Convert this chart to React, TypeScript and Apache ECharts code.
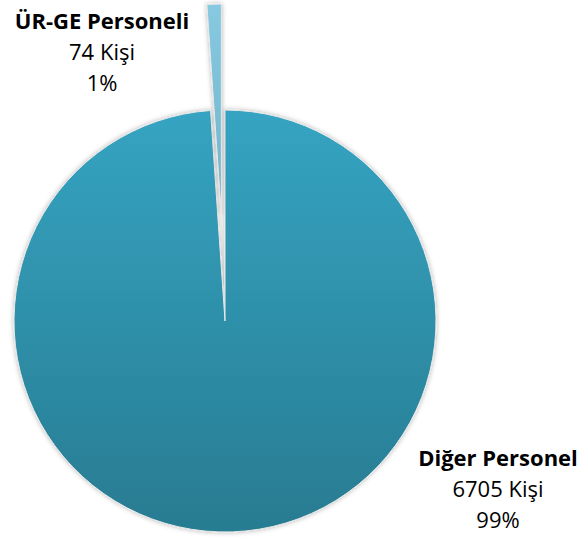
import React, { useEffect, useRef } from "react";
import * as echarts from "echarts";

const categories = ["Diğer Personel", "ÜR-GE Personeli"];
const values = [6705, 74];
const unit = "Kişi";

export default function App() {
  const ref = useRef<HTMLDivElement>(null);
  useEffect(() => {
    if (!ref.current) return;
    const chart = echarts.init(ref.current, null, { renderer: "svg" });
    const labelCenters: [number, number][] = [
      [498, 488],
      [102, 51],
    ];
    const total = values.reduce((a, b) => a + b, 0);
    const lineGap = 31;
    const font = "'Open Sans', sans-serif";
    const graphics: any[] = [];
    categories.forEach((name, i) => {
      const [cx, cy] = labelCenters[i];
      const lines = [
        { text: name, bold: true },
        { text: `${values[i]} ${unit}`, bold: false },
        { text: `${Math.round((values[i] / total) * 100)}%`, bold: false },
      ];
      lines.forEach((ln, k) => {
        graphics.push({
          type: "text",
          x: cx,
          y: cy + (k - 1) * lineGap,
          style: {
            text: ln.text,
            fontFamily: font,
            fontSize: 22,
            fontWeight: ln.bold ? "bold" : "normal",
            fill: "#000000",
            align: "center",
            verticalAlign: "middle",
          },
        });
      });
    });
    const colors = [
      new echarts.graphic.LinearGradient(0, 0, 0, 1, [
        { offset: 0, color: "#35a4c2" },
        { offset: 1, color: "#287b91" },
      ]),
      new echarts.graphic.LinearGradient(0, 0, 0, 1, [
        { offset: 0, color: "#86c9e1" },
        { offset: 1, color: "#6fb4cc" },
      ]),
    ];
    chart.setOption({
      animation: false,
      backgroundColor: "#ffffff",
      graphic: graphics,
      series: [
        {
          type: "pie",
          center: [225, 321],
          radius: [0, 211],
          startAngle: 90,
          clockwise: true,
          selectedMode: "single",
          selectedOffset: 106,
          data: categories.map((name, i) => ({
            name,
            value: values[i],
            selected: i === 1,
            itemStyle: { color: colors[i] },
          })),
          itemStyle: {
            borderColor: "#e8e8e8",
            borderWidth: 1,
            shadowBlur: 5,
            shadowColor: "rgba(0,0,0,0.3)",
          },
          label: { show: false },
          labelLine: { show: false },
          emphasis: { disabled: true },
        },
      ],
    });
    return () => chart.dispose();
  }, []);
  return (
    <div
      ref={ref}
      style={{ position: "fixed", left: 0, top: 0, width: 582, height: 540 }}
    />
  );
}
